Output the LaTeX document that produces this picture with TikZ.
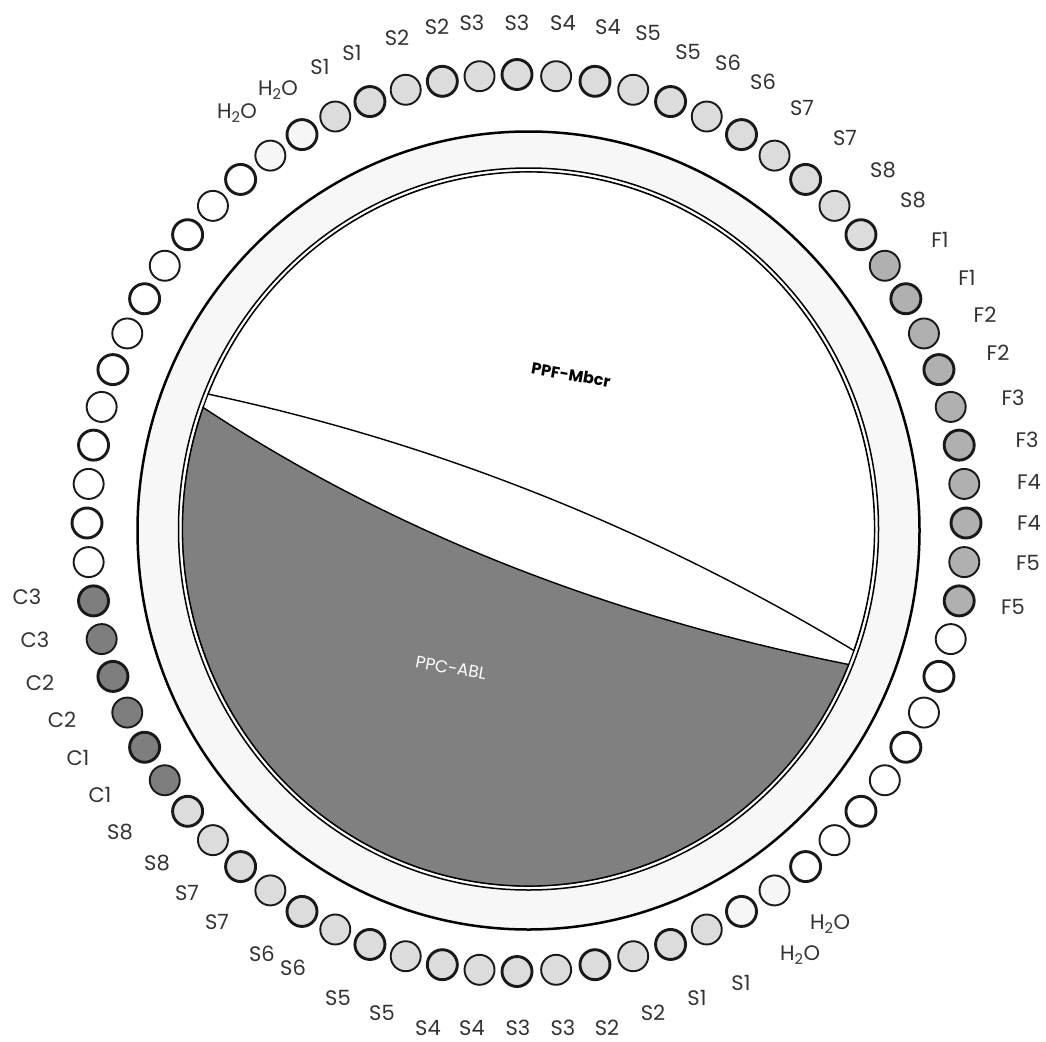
\documentclass[tikz,border=0pt]{standalone}
\usepackage{fontspec}
\setmainfont{Poppins}
\definecolor{ringgray}{RGB}{247,247,247}
\definecolor{hgray}{RGB}{246,246,246}
\definecolor{sgray}{RGB}{220,220,220}
\definecolor{fgray}{RGB}{176,176,176}
\definecolor{cgray}{RGB}{126,126,126}
\definecolor{ppcgray}{RGB}{128,128,128}
\definecolor{labtext}{RGB}{50,50,50}
\newcommand\htwoo{H\textsubscript{2}O}
\newcommand\wellat[2]{%
  \pgfmathsetmacro\wc{cos(#1)}%
  \pgfmathsetmacro\ws{sin(#1)}%
  \pgfmathsetmacro\wx{517+(\wc>0?449:430)*\wc}%
  \pgfmathsetmacro\wy{-523+448.5*\ws}%
  \pgfmathsetmacro\wl{abs(mod(#1,10))<0.5?2.9:1.9}%
  \draw[wellstyle, line width=\wl, fill=#2] (\wx,\wy) circle[radius=15];%
}
\begin{document}
\begin{tikzpicture}[x=1pt,y=1pt,
  wellstyle/.style={draw=black!90},
  lab/.style={font=\fontsize{21}{25}\selectfont, text=labtext, inner sep=0pt},
  ringline/.style={draw=black, line width=2.5},
  seg/.style={draw=black, line width=1.4}]
\useasboundingbox (0,0) rectangle (1046,-1041);
% rotor ring
\draw[ringline, fill=ringgray] (528.5,-530.5) ellipse [x radius=391, y radius=399];
\draw[draw=black, line width=1.5, fill=white] (528.5,-529) ellipse [x radius=350, y radius=361];
\draw[draw=black, line width=1.3] (528.5,-529) ellipse [x radius=346, y radius=357];
% white segment
\draw[seg, fill=white] (853.8,-650.5) arc[start angle=-19.9, end angle=157.8, x radius=346, y radius=357]
  .. controls (434,-442) and (649.3,-527.5) .. (853.8,-650.5) -- cycle;
% gray segment
\draw[seg, fill=ppcgray] (203.2,-407.5) arc[start angle=160.1, end angle=337.7, x radius=346, y radius=357]
  .. controls (603.5,-615.5) and (388.4,-529.8) .. (203.2,-407.5) -- cycle;
\node[font=\fontsize{16}{20}\selectfont\bfseries, text=black, rotate=-10] (ppf) at (571,-375) {PPF-Mbcr};
\node[font=\fontsize{17}{20}\selectfont, text=white, rotate=-10] (ppc) at (451,-668) {PPC-ABL};
% wells
\foreach \a in {180,175,...,130} {\wellat{\a}{white}}
\foreach \a in {125,120} {\wellat{\a}{hgray}}
\foreach \a in {115,110,...,40} {\wellat{\a}{sgray}}
\foreach \a in {35,30,...,-10} {\wellat{\a}{fgray}}
\foreach \a in {-15,-20,...,-50} {\wellat{\a}{white}}
\foreach \a in {-55,-60} {\wellat{\a}{hgray}}
\foreach \a in {-65,-70,...,-140} {\wellat{\a}{sgray}}
\foreach \a in {-145,-150,...,-170} {\wellat{\a}{cgray}}
\foreach \a in {-175} {\wellat{\a}{white}}
% labels
\foreach \x/\y/\t [count=\i] in {
  237/113/\htwoo, 278/90/\htwoo, 320/67/S1, 352/53/S1, 397/38/S2, 437/27/S2,
  472/23/S3, 517/23/S3, 563/23/S4, 608/27/S4, 648/33/S5, 688/52/S5,
  728/63/S6, 763/82/S6, 802/108/S7, 845/138/S7, 883/170/S8, 913/200/S8,
  940/240/F1, 967/278/F1, 985/315/F2, 998/353/F2, 1013/398/F3, 1027/440/F3,
  1029/482/F4, 1029/523/F4, 1028/563/F5, 1013/607/F5,
  830/924/\htwoo, 800/955/\htwoo, 741/983/S1, 697/998/S1, 653/1013/S2, 607/1028/S2,
  563/1028/S3, 518/1028/S3, 472/1028/S4, 428/1028/S4, 382/1013/S5, 338/998/S5,
  293/968/S6, 262/954/S6, 217/922/S7, 187/893/S7, 157/863/S8, 120/832/S8,
  100/795/C1, 78/758/C1, 62/720/C2, 40/683/C2, 35/640/C3, 27/597/C3}
  {\node[lab] (lab\i) at (\x,-\y) {\t};}
\end{tikzpicture}
\end{document}
